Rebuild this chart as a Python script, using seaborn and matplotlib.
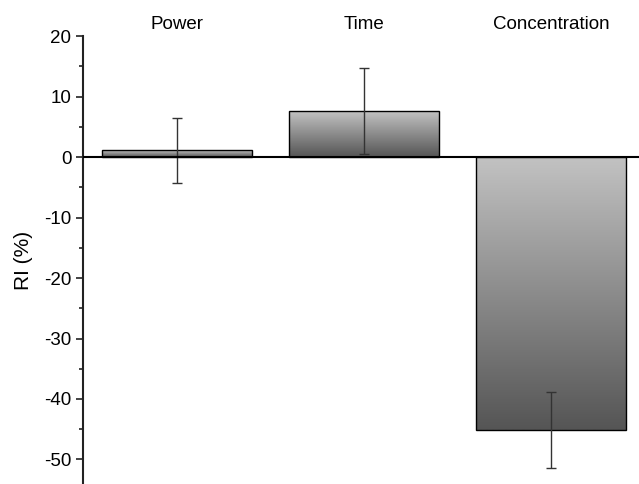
import matplotlib
matplotlib.use("Agg")
import matplotlib.pyplot as plt
import seaborn as sns
import numpy as np
import pandas as pd
from matplotlib.colors import LinearSegmentedColormap

# data
factors = ["Power", "Time", "Concentration"]
ri_mean = [1.1, 7.6, -45.1]
ri_err = [5.4, 7.15, 6.3]

sns.set_style("ticks")
plt.rcParams['font.family'] = ['Liberation Sans', 'DejaVu Sans']
plt.rcParams['axes.unicode_minus'] = False

df = pd.DataFrame({'factor': factors, 'ri': ri_mean})

fig = plt.figure(figsize=(6.39, 4.84), dpi=100)
ax = fig.add_axes([0.13, 0.0, 0.87, 0.9256])

sns.barplot(data=df, x='factor', y='ri', ax=ax, width=0.8,
            color='#999999', edgecolor='black', linewidth=1.0, errorbar=None)

# gradient fill (light at top, dark at bottom) clipped to each bar
grad = LinearSegmentedColormap.from_list('g', ['#c2c2c2', '#555555'])
for patch in ax.patches:
    x0, y0 = patch.get_x(), patch.get_y()
    w, h = patch.get_width(), patch.get_height()
    lo, hi = min(y0, y0 + h), max(y0, y0 + h)
    patch.set_facecolor('none')
    img = ax.imshow(np.linspace(0, 1, 256).reshape(-1, 1), cmap=grad,
                    aspect='auto', extent=[x0, x0 + w, lo, hi],
                    origin='upper', zorder=patch.get_zorder() - 0.1)
    img.set_clip_path(patch)

ax.errorbar(range(len(factors)), ri_mean, yerr=ri_err, fmt='none',
            ecolor='#333333', elinewidth=1.0, capsize=3.5, capthick=1.0, zorder=5)

ax.axhline(0, color='black', linewidth=1.5, zorder=6)

ax.set_xlim(-0.5, 2.47)
ax.set_ylim(-54.05, 20)
ax.set_yticks([20, 10, 0, -10, -20, -30, -40, -50])
ax.set_yticks(np.arange(-50, 20, 5), minor=True)
ax.tick_params(axis='y', which='major', length=5, width=1.2, labelsize=13.5,
               direction='out', labelcolor='black', color='#222222')
ax.tick_params(axis='y', which='minor', length=3, width=1.2, direction='out',
               color='#222222')

ax.xaxis.tick_top()
ax.tick_params(axis='x', length=0, labelsize=13.5, pad=2, labelcolor='black')
ax.set_xlabel('')
ax.set_ylabel('RI (%)', fontsize=15, labelpad=8, color='black')

for s in ['top', 'right', 'bottom']:
    ax.spines[s].set_visible(False)
ax.spines['left'].set_linewidth(1.5)
ax.spines['left'].set_color('#222222')

fig.savefig('out.png', dpi=100)
